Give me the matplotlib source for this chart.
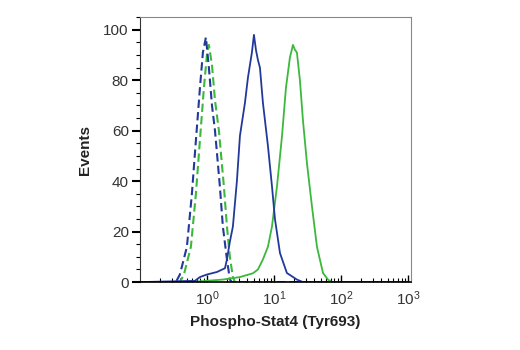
import matplotlib
matplotlib.use("Agg")
import numpy as np
from matplotlib import pyplot as plt
from matplotlib.ticker import LogLocator, NullFormatter, MultipleLocator

# curve data (x in fluorescence units, y in events %)
iso_blue_x = [0.1, 0.344, 0.395, 0.503, 0.597, 0.662, 0.787, 0.871, 0.966, 1.07,
              1.19, 1.32, 1.56, 1.73, 1.99, 2.20, 2.36, 1000]
iso_blue_y = [0, 0, 3, 14, 35, 51, 77, 91, 97, 85, 70, 60, 38, 22, 9, 1, 0, 0]

iso_green_x = [0.1, 0.395, 0.454, 0.577, 0.685, 0.760, 0.902, 1.0, 1.07, 1.19,
               1.32, 1.51, 1.79, 1.99, 2.20, 2.44, 2.62, 1000]
iso_green_y = [0, 0, 3, 14, 35, 51, 77, 90, 94, 86, 72, 60, 38, 22, 10, 2, 0, 0]

blue_x = [0.1, 0.662, 0.787, 1.0, 1.41, 1.86, 1.99, 2.20, 2.44, 2.80, 3.11, 3.69,
          4.09, 4.69, 5.03, 5.39, 5.77, 6.18, 6.85, 8.13, 9.34, 10.35, 12.3,
          15.6, 22.0, 27.1, 1000]
blue_y = [0, 0.5, 2, 3, 4, 5.5, 9, 16, 22, 40, 58, 71, 81, 91, 98, 92, 88, 85,
          71, 54, 38, 25, 11.5, 3.6, 1, 0, 0]

green_x = [0.1, 0.557, 1.73, 3.11, 4.86, 5.77, 6.85, 8.13, 9.34, 11.1, 13.2, 15.1,
           17.3, 19.2, 20.6, 22.0, 24.4, 27.1, 31.1, 36.9, 43.8, 53.9, 63.9,
           73.4, 1000]
green_y = [0, 0, 1, 2, 3.5, 5, 9, 14, 22, 38, 58, 77, 89, 94, 92, 91, 80, 64, 47,
           30, 14, 3.6, 1, 0, 0]

blue = "#22399a"
green = "#3cb83c"

plt.rcParams['font.family'] = ['Liberation Sans', 'DejaVu Sans']
plt.rcParams['mathtext.fontset'] = 'custom'
plt.rcParams['mathtext.rm'] = 'Liberation Sans'
plt.rcParams['mathtext.it'] = 'Liberation Sans'

fig = plt.figure(figsize=(5.2, 3.5), dpi=100)
ax = fig.add_axes([0.269, 0.194, 0.521, 0.757])

ax.plot(iso_green_x, iso_green_y, color=green, lw=1.5, dashes=(4, 2))
ax.plot(iso_blue_x, iso_blue_y, color=blue, lw=1.5, dashes=(4, 2))
ax.plot(green_x, green_y, color=green, lw=1.3)
ax.plot(blue_x, blue_y, color=blue, lw=1.3)

ax.set_xscale('log')
ax.set_xlim(0.1, 1100)
ax.set_ylim(0, 105)

ax.xaxis.set_minor_locator(LogLocator(base=10, subs=np.arange(2, 10), numticks=20))
ax.xaxis.set_minor_formatter(NullFormatter())
ax.set_xticks([1, 10, 100, 1000])
ax.set_xticklabels([r'$10^0$', r'$10^1$', r'$10^2$', r'$10^3$'])

ax.yaxis.set_major_locator(MultipleLocator(20))
ax.yaxis.set_minor_locator(MultipleLocator(5))

ax.tick_params(axis='x', which='major', direction='in', length=5, width=1,
               labelsize=11, pad=5, labelcolor='#333333')
ax.tick_params(axis='x', which='minor', direction='in', length=3, width=0.8)
ax.tick_params(axis='y', which='major', direction='out', length=6, width=1.5,
               labelsize=11, pad=2, labelcolor='#333333')
ax.tick_params(axis='y', which='minor', direction='out', length=3, width=0.8)

ax.spines['top'].set_color('#888888')
ax.spines['right'].set_color('#888888')
ax.spines['left'].set_color('#333333')
ax.spines['bottom'].set_color('black')
ax.spines['bottom'].set_linewidth(1.2)

ax.set_xlabel('Phospho-Stat4 (Tyr693)', fontsize=11, fontweight='bold',
              labelpad=5, color='#222222')
ax.set_ylabel('Events', fontsize=11, fontweight='bold', labelpad=8,
              color='#222222')

fig.savefig('out.png', dpi=100)
